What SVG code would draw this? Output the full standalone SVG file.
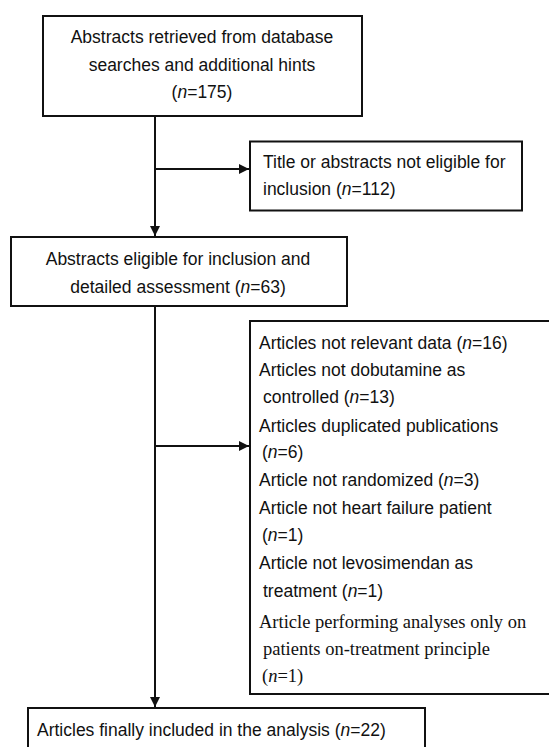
<svg xmlns="http://www.w3.org/2000/svg" width="549" height="747" viewBox="0 0 549 747">
<defs>
<marker id="ah" viewBox="0 0 10 10" refX="10" refY="5" markerWidth="10" markerHeight="10" markerUnits="userSpaceOnUse" orient="auto">
<path d="M0,0 L10,5 L0,10 Z" fill="#111"/>
</marker>
</defs>
<style>
.box{fill:#fff;stroke:#111;stroke-width:2}
.t{font-family:"Liberation Sans",Arial,sans-serif;font-size:17.5px;fill:#111}
.s{font-family:"Liberation Serif","Times New Roman",serif;font-size:18.5px;fill:#111}
.c{text-anchor:middle}
.i{font-style:italic}
.ln{fill:none;stroke:#111;stroke-width:2}
</style>
<rect width="549" height="747" fill="#fff"/>
<g id="connectors">
<line class="ln" x1="155" y1="116" x2="155" y2="236" marker-end="url(#ah)"/>
<line class="ln" x1="155" y1="169" x2="249" y2="169" marker-end="url(#ah)"/>
<line class="ln" x1="155" y1="306" x2="155" y2="707" marker-end="url(#ah)"/>
<line class="ln" x1="155" y1="446" x2="249" y2="446" marker-end="url(#ah)"/>
</g>
<g id="n1">
<rect class="box" x="43" y="16" width="319" height="100"/>
<text class="t c" x="202" y="43">Abstracts retrieved from database</text>
<text class="t c" x="202" y="71">searches and additional hints</text>
<text class="t c" x="202" y="98">(<tspan class="i">n</tspan>=175)</text>
</g>
<g id="n2">
<rect class="box" x="250" y="141.5" width="272" height="69"/>
<text class="t" x="263" y="168">Title or abstracts not eligible for</text>
<text class="t" x="263" y="195">inclusion (<tspan class="i">n</tspan>=112)</text>
</g>
<g id="n3">
<rect class="box" x="11" y="237" width="336" height="69"/>
<text class="t c" x="178" y="265">Abstracts eligible for inclusion and</text>
<text class="t c" x="178" y="293">detailed assessment (<tspan class="i">n</tspan>=63)</text>
</g>
<g id="n4">
<rect class="box" x="250" y="321" width="320" height="373"/>
<text class="t" x="259" y="349">Articles not relevant data (<tspan class="i">n</tspan>=16)</text>
<text class="t" x="259" y="376">Articles not dobutamine as</text>
<text class="t" x="263" y="403">controlled (<tspan class="i">n</tspan>=13)</text>
<text class="t" x="259" y="432">Articles duplicated publications</text>
<text class="t" x="262" y="458">(<tspan class="i">n</tspan>=6)</text>
<text class="t" x="259" y="486">Article not randomized (<tspan class="i">n</tspan>=3)</text>
<text class="t" x="259" y="514">Article not heart failure patient</text>
<text class="t" x="262" y="541">(<tspan class="i">n</tspan>=1)</text>
<text class="t" x="259" y="569">Article not levosimendan as</text>
<text class="t" x="263" y="597">treatment (<tspan class="i">n</tspan>=1)</text>
<text class="s" x="259" y="628">Article performing analyses only on</text>
<text class="s" x="263" y="655">patients on-treatment principle</text>
<text class="s" x="262" y="682">(<tspan class="i">n</tspan>=1)</text>
</g>
<g id="n5">
<rect class="box" x="28" y="708" width="397" height="60"/>
<text class="t" x="37" y="736">Articles finally included in the analysis (<tspan class="i">n</tspan>=22)</text>
</g>
</svg>
